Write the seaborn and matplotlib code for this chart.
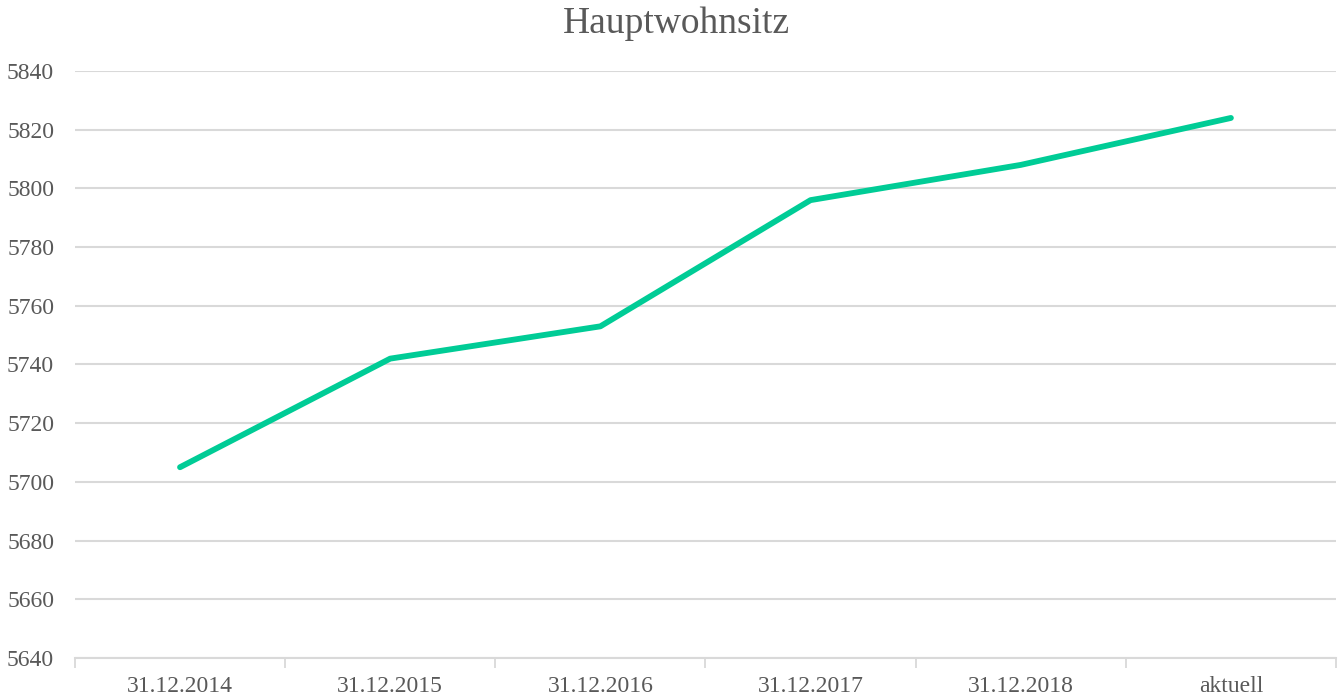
import matplotlib.pyplot as plt
import seaborn as sns
import numpy as np
import pandas as pd

# data
categories = ["31.12.2014", "31.12.2015", "31.12.2016", "31.12.2017", "31.12.2018", "aktuell"]
residents = [5705, 5742, 5753, 5796, 5808, 5824]
y_ticks = list(range(5640, 5841, 20))

sns.set_theme(style="white")
plt.rcParams["font.family"] = ["Liberation Serif", "DejaVu Serif"]

text_color = "#595959"
grid_color = "#D9D9D9"
line_color = "#00CC96"

df = pd.DataFrame({"Datum": categories, "Einwohner": residents})
df["pos"] = np.arange(len(df))

fig = plt.figure(figsize=(13.38, 6.98), dpi=100)
ax = fig.add_axes([0.056, 0.0573, 0.9425, 0.8410])

sns.lineplot(data=df, x="pos", y="Einwohner", color=line_color, linewidth=4.2,
             solid_capstyle="round", ax=ax)

ax.set_xlim(-0.5, len(categories) - 0.5)
ax.set_ylim(y_ticks[0], y_ticks[-1])
ax.set_yticks(y_ticks)
ax.set_yticklabels([str(v) for v in y_ticks], fontsize=17, color=text_color)
ax.set_xticks(df["pos"])
ax.set_xticklabels(categories, fontsize=17, color=text_color)
ax.set_xticks(np.arange(-0.5, len(categories)), minor=True)
ax.tick_params(axis="x", which="major", bottom=True, length=0, pad=13)
ax.tick_params(axis="x", which="minor", bottom=True, length=7, width=1.3,
               color=grid_color, direction="out")
ax.tick_params(axis="y", length=0, pad=15)

ax.grid(axis="y", color=grid_color, linewidth=1.5)
ax.set_axisbelow(True)
for side in ["top", "right", "left"]:
    ax.spines[side].set_visible(False)
ax.spines["bottom"].set_color(grid_color)
ax.spines["bottom"].set_linewidth(1.5)

ax.set_xlabel("")
ax.set_ylabel("")
# title is centred on the whole figure, not on the plot area
ax.set_title("Hauptwohnsitz", fontsize=27, color=text_color, pad=27, x=0.477)

fig.savefig("out.png", dpi=100)
